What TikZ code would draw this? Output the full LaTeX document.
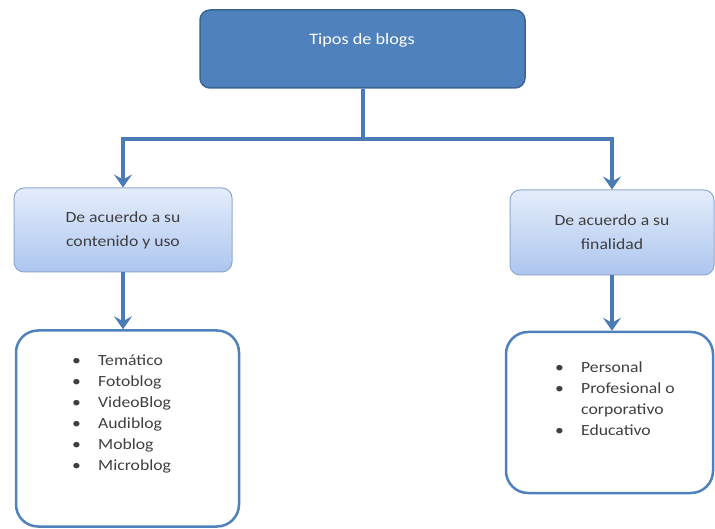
\documentclass[tikz,border=0pt]{standalone}
\usepackage{fontspec}
\setmainfont[FakeStretch=1.14]{Carlito}
\usetikzlibrary{arrows.meta,positioning,calc}
\definecolor{blogblue}{HTML}{4F81BD}
\definecolor{blogdark}{HTML}{3A6594}
\definecolor{bloglight}{HTML}{E4EDFB}
\definecolor{blogmid}{HTML}{ADC6EF}
\definecolor{blogedge}{HTML}{8FA8CF}
\definecolor{blogtext}{HTML}{3F3F3F}
\tikzset{
  rootbox/.style  = {rectangle,draw=blogdark,fill=blogblue,rounded corners=10pt,line width=1.5pt,minimum width=325pt,minimum height=78pt},
  groupbox/.style = {rectangle,draw=blogedge,top color=bloglight,bottom color=blogmid,rounded corners=10pt,line width=1pt,align=center,text=blogtext,font=\fontsize{15.5}{24}\selectfont},
  listbox/.style  = {rectangle,draw=blogblue,fill=white,rounded corners=22pt,line width=2.5pt},
  listtext/.style = {inner sep=0pt,align=left,text=blogtext,font=\fontsize{15.5}{21}\selectfont},
  flow/.style     = {-{Stealth[length=13pt,width=18pt,inset=5pt]},draw=blogblue!95!black,line width=4pt},
}
\newcommand{\blogitem}[1]{\makebox[26pt][l]{\textbullet}#1}

\begin{document}
\begin{tikzpicture}[x=1pt,y=-1pt]
\useasboundingbox (0,0) rectangle (715,529);
\node[rootbox] (tipos) at (362.5,49) {};
\node[text=white,font=\fontsize{16}{18}\selectfont] (tipostxt) at (362,40) {Tipos de blogs};
\node[groupbox,minimum width=218pt,minimum height=84pt] (contenido) at (123,230) {De acuerdo a su\\contenido y uso};
\node[groupbox,minimum width=204pt,minimum height=85pt] (finalidad) at (612,232.5) {De acuerdo a su\\finalidad};
\node[listbox,minimum width=223pt,minimum height=196pt] (listacont) at (127.5,428.5) {};
\node[listbox,minimum width=207pt,minimum height=161pt] (listafin) at (609.5,412.5) {};
\node[listtext,anchor=west] (itemscont) at (72,414) {\blogitem{Temático}\\\blogitem{Fotoblog}\\\blogitem{VideoBlog}\\\blogitem{Audiblog}\\\blogitem{Moblog}\\\blogitem{Microblog}};
\node[listtext,anchor=west] (itemsfin) at (555,399) {\blogitem{Personal}\\\blogitem{Profesional o}\\\hspace*{26pt}corporativo\\\blogitem{Educativo}};
\draw[flow] (tipos.south) -- ++(0,50) -| (contenido.north);
\draw[flow] (tipos.south) -- ++(0,50) -| (finalidad.north);
\draw[flow] (contenido.south) -- (contenido.south |- listacont.north);
\draw[flow] (finalidad.south) -- (finalidad.south |- listafin.north);
\end{tikzpicture}
\end{document}
